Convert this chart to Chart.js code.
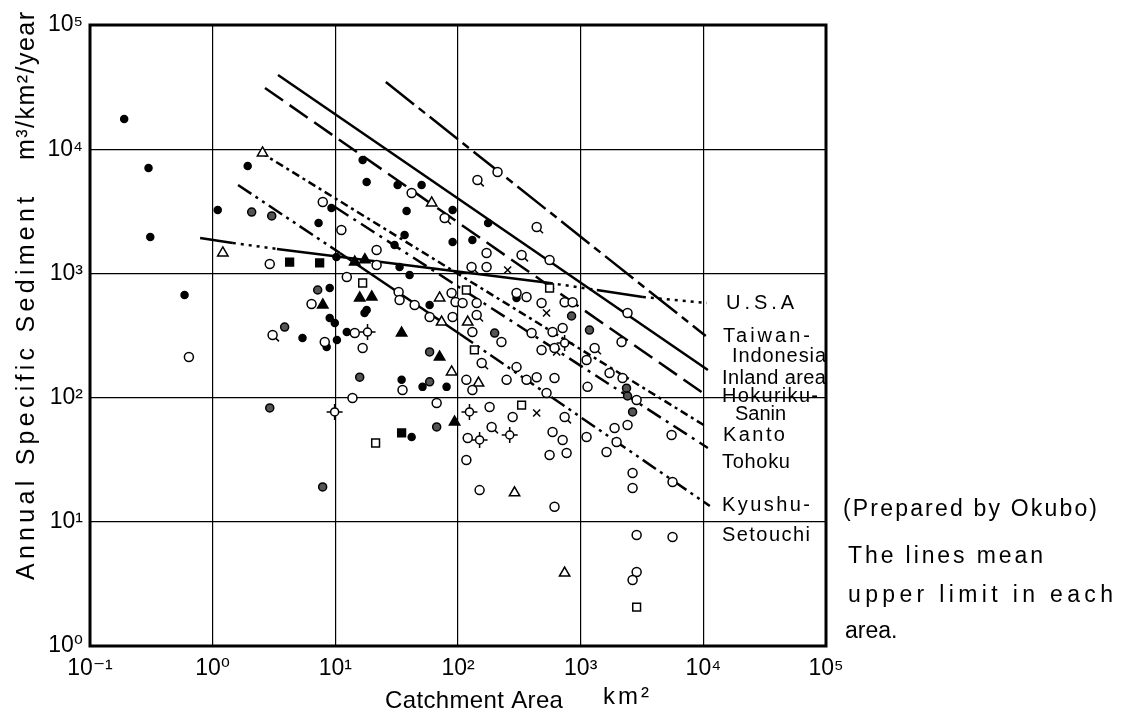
<!DOCTYPE html>
<html lang="en">
<head>
    <meta charset="UTF-8">
    <title>Annual Specific Sediment vs Catchment Area</title>
    <script src="https://cdn.jsdelivr.net/npm/chart.js"></script>
    <style>
        body {
            margin: 0;
            padding: 0;
            background-color: #ffffff;
        }
        #sedimentChart {
            display: block;
        }
    </style>
</head>
<body>
    <canvas id="sedimentChart" width="1125" height="725"></canvas>

    <script>
        // axis ticks (powers of ten)
        const xTicks = [0.1, 1, 10, 100, 1000, 10000, 100000];
        const xTickLabels = ['10⁻¹', '10⁰', '10¹', '10²', '10³', '10⁴', '10⁵'];
        const yTicks = [1, 10, 100, 1000, 10000, 100000];
        const yTickLabels = ['10⁰', '10¹', '10²', '10³', '10⁴', '10⁵'];

        // upper limit lines, [km2, m3/km2/year]
        const taiwanLine = [[25.8, 34750], [10470, 313]];
        const inlandLine = [[3.41, 39560], [10890, 167]];
        const hokurikuLine = [[2.67, 31100], [10470, 105]];
        const kantoLine = [[2.43, 9490], [10690, 58]];
        const tohokuLine = [[9.93, 3425], [10890, 39.3]];
        const kyushuLine = [[1.61, 5150], [10.9, 1459], [103.5, 325], [11300, 13.4]];
        const usaLine = [[0.79, 1928], [1.46, 1758], [3.34, 1573], [561, 837], [1355, 735], [3214, 646], [10690, 578]];

        // observed reservoirs, one array per marker kind
        const filledCircles = [[0.19, 17500], [0.30, 7060], [0.31, 1965], [1.93, 7320], [1.10, 3240], [0.59, 670],
            [10.2, 1355], [7.3, 2545], [9.3, 3360], [16.7, 8190], [18.0, 5440], [9.0, 763], [5.4, 302], [9.0, 437],
            [8.5, 256], [10.3, 291], [18.0, 507], [32.2, 5150], [50.5, 5150], [90.4, 3240], [38.1, 3180], [36.7, 2040],
            [30.4, 1694], [90.4, 1790], [131, 1858], [40.3, 971], [33.4, 1127], [17.3, 480], [58.7, 557], [80.7, 122],
            [34.7, 139], [51.4, 122], [41.9, 48.2], [176, 2545], [300, 634], [12.4, 337], [9.9, 399]];
        const openCircles = [[0.64, 212], [2.92, 1190], [7.9, 3760], [11.2, 2235], [12.4, 935], [21.7, 1543], [6.4, 567],
            [8.2, 280], [14.4, 331], [16.7, 251], [13.8, 99.3], [41.9, 4440], [210, 6550], [171, 1460], [558, 1282],
            [171, 1127], [21.7, 1169], [32.8, 708], [33.4, 611], [44.3, 557], [58.7, 446], [88.7, 695], [95.5, 589],
            [109, 578], [90.4, 446], [142, 578], [131, 337], [226, 280], [300, 695], [362, 646], [480, 578], [398, 331],
            [590, 337], [480, 242], [117, 139], [131, 115], [35.3, 115], [249, 139], [300, 176], [362, 139], [438, 146],
            [527, 109], [612, 144], [67, 90.5], [181, 84], [279, 69.8], [590, 52.9], [120, 47.3], [713, 45.6], [558, 34.5],
            [768, 35.8], [117, 31.4], [150, 18.0], [612, 13.2], [740, 585], [859, 585], [713, 363], [612, 251], [2410, 480],
            [2155, 280], [1720, 158], [2195, 144], [2857, 95.7], [2410, 60.2], [1890, 56.9], [1963, 43.9], [1625, 36.5],
            [5510, 50], [2650, 24.7], [2650, 18.7], [5610, 20.9], [1117, 48.2], [1138, 122], [1117, 201], [2860, 7.83],
            [5610, 7.55], [2860, 3.94], [2650, 3.4]];
        const openTriangles = [[1.21, 1460], [2.55, 9320], [61, 3690], [70.8, 634], [73.5, 406], [88.7, 161], [147, 131],
            [289, 17.1], [740, 3.87], [120, 406]];
        const filledTriangles = [[14.4, 1235], [7.9, 557], [15.8, 634], [19.8, 646], [34.7, 331], [93.8, 63.6], [70.8, 212],
            [17.4, 1290]];
        const openSquares = [[16.7, 837], [21.3, 43.1], [117, 735], [136, 242], [330, 87], [558, 763], [2860, 2.06]];
        const filledSquares = [[4.24, 1235], [7.45, 1213], [34.7, 51.9]];
        const crosses = [[254, 1065], [527, 480], [637, 233], [438, 75.2]];
        const targets = [[9.87, 76.6], [18.3, 337], [124, 76.6], [264, 50], [150, 45.6], [740, 275]];
        const tailCircles = [[77.8, 2790], [144, 5650], [438, 2365], [330, 1406], [129, 1127], [142, 462], [156, 190],
            [188, 58], [740, 69.8], [1300, 251], [3.08, 319]];
        const halfCircles = [[2.08, 3120], [3.03, 2900], [2.92, 82.5], [7.88, 19.1], [7.18, 735], [3.86, 370], [15.8, 146],
            [58.7, 233], [58.7, 134], [67, 58], [843, 454], [1180, 350], [2365, 119], [2410, 103], [2650, 76.6], [199, 331]];

        const FONT = '"Liberation Sans", "DejaVu Sans", sans-serif';
        const toPts = arr => arr.map(([x, y]) => ({ x, y }));

        const DASH = {
            solid: [],
            dot: [3, 5],
            taiwan: [36, 6, 8, 6],
            hokuriku: [22, 8],
            kanto: [8, 4, 3, 4],
            tohoku: [16, 6, 3, 6],
            dashDotDot: [16, 5, 3, 5, 3, 5]
        };
        const usaSegments = ['solid', 'dot', 'solid', 'dot', 'solid', 'dot'];
        const kyushuSegments = ['dashDotDot', 'solid', 'dashDotDot'];

        function lineSet(data, dash, segStyles) {
            const ds = {
                type: 'scatter',
                data: toPts(data),
                showLine: true,
                borderColor: '#000',
                borderWidth: 2.5,
                borderDash: DASH[dash],
                pointRadius: 0,
                order: 10
            };
            if (segStyles) {
                ds.segment = { borderDash: ctx => DASH[segStyles[ctx.p0DataIndex]] };
            }
            return ds;
        }

        function markerSet(data, style, radius, fill, extra) {
            return Object.assign({
                data: toPts(data),
                pointStyle: style,
                pointRadius: radius,
                pointBackgroundColor: fill,
                pointBorderColor: '#000',
                pointBorderWidth: 1.5,
                order: 2
            }, extra || {});
        }

        // frame around the plot area
        const framePlugin = {
            id: 'frame',
            beforeDatasetsDraw(chart) {
                const { ctx, chartArea: a } = chart;
                ctx.save();
                ctx.strokeStyle = '#000';
                ctx.lineWidth = 3;
                ctx.strokeRect(a.left, a.top, a.right - a.left, a.bottom - a.top);
                ctx.restore();
            }
        };

        function spacedText(ctx, text, x, y, width, size) {
            ctx.font = size + 'px ' + FONT;
            ctx.letterSpacing = '0px';
            const w0 = ctx.measureText(text).width;
            const gap = Math.max(0, (width - w0) / Math.max(1, text.length - 1));
            ctx.letterSpacing = gap.toFixed(2) + 'px';
            ctx.fillText(text, x, y);
            ctx.letterSpacing = '0px';
        }

        // area names at the line ends and the note on the right
        const areaLabels = [
            ['U.S.A', 726, 303, 68],
            ['Taiwan-', 723, 336, 87],
            ['Indonesia', 732, 356, 94],
            ['Inland area', 722, 378, 104],
            ['Hokuriku-', 722, 396, 96],
            ['Sanin', 735, 414, 50],
            ['Kanto', 723, 435, 62],
            ['Tohoku', 722, 462, 68],
            ['Kyushu-', 722, 505, 88],
            ['Setouchi', 722, 535, 88]
        ];
        const noteLines = [
            ['(Prepared by Okubo)', 843, 510, 254],
            ['The lines mean', 848, 557, 195],
            ['upper limit in each', 848, 596, 265],
            ['area.', 845, 632, 50]
        ];

        const textPlugin = {
            id: 'texts',
            afterDraw(chart) {
                const ctx = chart.ctx;
                ctx.save();
                ctx.fillStyle = '#000';
                ctx.textBaseline = 'middle';
                ctx.textAlign = 'left';
                areaLabels.forEach(([t, x, y, w]) => spacedText(ctx, t, x, y, w, 20));
                noteLines.forEach(([t, x, y, w]) => spacedText(ctx, t, x, y, w, 23));

                // x axis title
                spacedText(ctx, 'Catchment Area', 385, 701, 178, 24);
                spacedText(ctx, 'km²', 603, 697, 46, 24);

                // y axis title, rotated
                ctx.save();
                ctx.translate(27, 580);
                ctx.rotate(-Math.PI / 2);
                spacedText(ctx, 'Annual Specific Sediment', 0, 0, 383, 25);
                ctx.restore();
                ctx.save();
                ctx.translate(27, 160);
                ctx.rotate(-Math.PI / 2);
                spacedText(ctx, 'm³/km²/year', 0, 0, 148, 25);
                ctx.restore();
                ctx.restore();
            }
        };

        const sedimentChart = new Chart(document.getElementById('sedimentChart'), {
            type: 'scatter',
            data: {
                datasets: [
                    lineSet(taiwanLine, 'taiwan'),
                    lineSet(inlandLine, 'solid'),
                    lineSet(hokurikuLine, 'hokuriku'),
                    lineSet(kantoLine, 'kanto'),
                    lineSet(tohokuLine, 'tohoku'),
                    lineSet(kyushuLine, 'solid', kyushuSegments),
                    lineSet(usaLine, 'solid', usaSegments),
                    markerSet(filledCircles, 'circle', 3.5, '#000'),
                    markerSet(halfCircles, 'circle', 4, '#555'),
                    markerSet(tailCircles, 'dash', 9, '#000', { pointRotation: 45, order: 4 }),
                    markerSet(tailCircles, 'circle', 4.5, '#fff', { order: 1 }),
                    markerSet(targets, 'cross', 8, '#000', { order: 4 }),
                    markerSet(targets, 'circle', 4, '#fff', { order: 1 }),
                    markerSet(openCircles, 'circle', 4.5, '#fff', { order: 1 }),
                    markerSet(openTriangles, 'triangle', 6, '#fff', { order: 1 }),
                    markerSet(filledTriangles, 'triangle', 6, '#000'),
                    markerSet(openSquares, 'rect', 5.5, '#fff', { order: 1 }),
                    markerSet(filledSquares, 'rect', 5.5, '#000'),
                    markerSet(crosses, 'crossRot', 5, '#000')
                ]
            },
            options: {
                responsive: false,
                animation: false,
                layout: {
                    padding: { top: 25, right: 299, bottom: 0, left: 0 }
                },
                plugins: {
                    legend: { display: false },
                    tooltip: { enabled: false }
                },
                scales: {
                    x: {
                        type: 'logarithmic',
                        position: 'bottom',
                        min: 0.1,
                        max: 100000,
                        afterBuildTicks: axis => { axis.ticks = xTicks.map(v => ({ value: v })); },
                        afterFit: axis => { axis.height = 79; },
                        ticks: {
                            callback: (v, i) => xTickLabels[i],
                            color: '#000',
                            font: { family: FONT, size: 23 },
                            padding: 9,
                            maxRotation: 0,
                            autoSkip: false
                        },
                        grid: { color: '#000', lineWidth: 1.2, drawTicks: false },
                        border: { display: false }
                    },
                    y: {
                        type: 'logarithmic',
                        position: 'left',
                        min: 1,
                        max: 100000,
                        afterBuildTicks: axis => { axis.ticks = yTicks.map(v => ({ value: v })); },
                        afterFit: axis => { axis.width = 90; },
                        ticks: {
                            callback: (v, i) => yTickLabels[i],
                            color: '#000',
                            font: { family: FONT, size: 23 },
                            padding: 7,
                            autoSkip: false
                        },
                        grid: { color: '#000', lineWidth: 1.2, drawTicks: false },
                        border: { display: false }
                    }
                }
            },
            plugins: [framePlugin, textPlugin]
        });
    </script>
</body>
</html>
